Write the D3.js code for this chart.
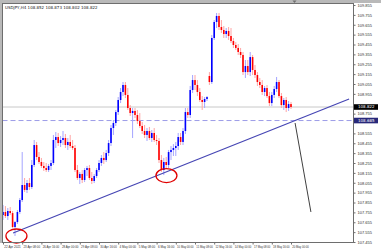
<!DOCTYPE html>
<html>
<head>
<meta charset="utf-8">
<script src="https://cdn.jsdelivr.net/npm/d3@7/dist/d3.min.js"></script>
<style>
    html, body { margin: 0; padding: 0; background: #ffffff; }
    svg { display: block; font-family: "DejaVu Sans", sans-serif; }
</style>
</head>
<body>
<div id="chart"></div>
<script>
//chart title
var symbolTitle = 'USDJPY,H4  108.852 108.873 108.802 108.822';

//candle values (H4 bars)
var opens = [107.728, 107.759, 107.718, 107.769, 107.748, 107.607, 107.657, 107.759, 107.880, 108.032,
    107.982, 108.052, 108.012, 108.235, 108.437, 108.316, 108.265, 108.225, 108.204, 108.184,
    108.225, 108.255, 108.488, 108.518, 108.457, 108.488, 108.508, 108.437, 108.468, 108.427,
    108.407, 108.184, 108.103, 108.144, 108.083, 108.184, 108.204, 108.103, 108.073, 108.123,
    108.184, 108.255, 108.306, 108.285, 108.356, 108.457, 108.609, 108.660, 108.771, 108.893,
    108.974, 109.045, 108.944, 108.812, 108.761, 108.782, 108.741, 108.680, 108.630, 108.579,
    108.539, 108.579, 108.508, 108.559, 108.488, 108.478, 108.285, 108.184, 108.265, 108.235,
    108.366, 108.387, 108.407, 108.427, 108.518, 108.468, 108.579, 108.771, 108.741, 108.994,
    109.095, 109.045, 108.974, 108.893, 108.873, 108.903, 109.136, 109.075, 109.521, 109.683,
    109.744, 109.632, 109.602, 109.561, 109.592, 109.541, 109.490, 109.450, 109.420, 109.379,
    109.349, 109.176, 109.237, 109.176, 109.328, 109.197, 109.146, 109.075, 109.045, 108.974,
    109.014, 108.933, 108.862, 108.944, 109.004, 109.075, 108.933, 108.842, 108.893, 108.812,
    108.852];
var highs = [107.830, 107.819, 107.799, 107.809, 107.769, 107.668, 107.779, 107.900, 108.366, 108.103,
    108.083, 108.103, 108.285, 108.488, 108.468, 108.366, 108.306, 108.265, 108.255, 108.245,
    108.285, 108.539, 108.569, 108.559, 108.528, 108.579, 108.549, 108.508, 108.539, 108.488,
    108.437, 108.235, 108.164, 108.184, 108.204, 108.225, 108.235, 108.164, 108.144, 108.204,
    108.285, 108.336, 108.366, 108.387, 108.488, 108.640, 108.690, 108.792, 108.923, 109.014,
    109.075, 109.075, 109.014, 108.842, 108.812, 108.812, 108.792, 108.761, 108.670, 108.640,
    108.609, 108.620, 108.589, 108.609, 108.539, 108.508, 108.336, 108.306, 108.316, 108.387,
    108.427, 108.447, 108.468, 108.559, 108.559, 108.609, 108.812, 108.812, 109.035, 109.146,
    109.146, 109.095, 109.014, 108.933, 108.923, 108.933, 109.176, 109.551, 109.703, 109.774,
    109.774, 109.703, 109.642, 109.622, 109.632, 109.622, 109.521, 109.480, 109.460, 109.420,
    109.379, 109.298, 109.298, 109.379, 109.349, 109.247, 109.176, 109.116, 109.095, 109.035,
    109.045, 108.974, 108.974, 109.035, 109.126, 109.095, 108.964, 108.913, 108.923, 108.883,
    108.873];
var lows = [107.678, 107.698, 107.678, 107.728, 107.597, 107.516, 107.637, 107.738, 107.860, 107.961,
    107.951, 107.982, 107.992, 108.214, 108.285, 108.245, 108.204, 108.174, 108.164, 108.164,
    108.184, 108.235, 108.407, 108.427, 108.417, 108.437, 108.407, 108.387, 108.407, 108.387,
    108.164, 108.083, 108.042, 108.052, 108.062, 108.123, 108.083, 108.042, 108.052, 108.103,
    108.164, 108.225, 108.245, 108.265, 108.326, 108.427, 108.539, 108.630, 108.741, 108.862,
    108.933, 108.913, 108.792, 108.731, 108.508, 108.711, 108.650, 108.609, 108.549, 108.508,
    108.478, 108.488, 108.468, 108.468, 108.437, 108.255, 108.164, 108.133, 108.204, 108.204,
    108.285, 108.326, 108.326, 108.387, 108.437, 108.437, 108.549, 108.711, 108.711, 108.964,
    108.994, 108.933, 108.873, 108.792, 108.812, 108.883, 109.045, 109.055, 109.501, 109.622,
    109.602, 109.571, 109.521, 109.521, 109.501, 109.470, 109.420, 109.399, 109.349, 109.318,
    109.146, 109.116, 109.146, 109.136, 109.146, 109.116, 109.035, 109.014, 108.944, 108.933,
    108.913, 108.832, 108.832, 108.913, 108.974, 108.913, 108.812, 108.792, 108.771, 108.782,
    108.802];
var closes = [107.759, 107.718, 107.769, 107.748, 107.607, 107.657, 107.759, 107.880, 108.032, 107.982,
    108.052, 108.012, 108.235, 108.437, 108.316, 108.265, 108.225, 108.204, 108.184, 108.225,
    108.255, 108.488, 108.518, 108.457, 108.488, 108.508, 108.437, 108.468, 108.427, 108.407,
    108.184, 108.103, 108.144, 108.083, 108.184, 108.204, 108.103, 108.073, 108.123, 108.184,
    108.255, 108.306, 108.285, 108.356, 108.457, 108.609, 108.660, 108.771, 108.893, 108.974,
    109.045, 108.944, 108.812, 108.761, 108.782, 108.741, 108.680, 108.630, 108.579, 108.539,
    108.579, 108.508, 108.559, 108.488, 108.478, 108.285, 108.184, 108.265, 108.235, 108.366,
    108.387, 108.407, 108.427, 108.518, 108.468, 108.579, 108.771, 108.741, 108.994, 109.095,
    109.045, 108.974, 108.893, 108.873, 108.903, 108.923, 109.075, 109.521, 109.683, 109.744,
    109.632, 109.602, 109.561, 109.592, 109.541, 109.490, 109.450, 109.420, 109.379, 109.349,
    109.176, 109.237, 109.176, 109.328, 109.197, 109.146, 109.075, 109.045, 108.974, 109.014,
    108.933, 108.862, 108.944, 109.004, 109.075, 108.933, 108.842, 108.893, 108.812, 108.852,
    108.822];

//price axis labels
var priceTicks = [109.855, 109.755, 109.655, 109.555, 109.455, 109.355, 109.255, 109.155, 109.055,
    108.955, 108.855, 108.755, 108.655, 108.555, 108.455, 108.355, 108.255, 108.155, 108.055,
    107.955, 107.855, 107.755, 107.655, 107.555, 107.455];

//time axis labels (every 8 bars)
var timeTicks = [0, 8, 16, 24, 32, 40, 48, 56, 64, 72, 80, 88, 96, 104, 112, 120];
var timeLabels = ['22 Apr 2021', '23 Apr 08:00', '26 Apr 16:00', '28 Apr 00:00', '29 Apr 08:00',
    '30 Apr 16:00', '4 May 00:00', '5 May 08:00', '6 May 16:00', '10 May 00:00', '11 May 08:00',
    '12 May 16:00', '14 May 00:00', '17 May 08:00', '18 May 16:00', '20 May 00:00'];

//drawn objects: bid level, horizontal level, trend line, arrow, circles
var bidPrice = 108.822;
var levelPrice = 108.685;
var trendBars = [4.2, 144.2];
var trendPrices = [107.546, 108.903];
var arrowBars = [121.7, 128.3];
var arrowPrices = [108.660, 107.759];
var circleBars = [5.6, 68.1];
var circlePrices = [107.516, 108.128];

//chart size
var width = 381, height = 250,
    plot = { left: 2.5, top: 3.5, right: 353.5, bottom: 242.5 };

var svg = d3.select('#chart').append('svg')
    .attr('width', width)
    .attr('height', height);

//window frame
svg.append('rect').attr('x', 0).attr('y', 0).attr('width', width).attr('height', 3).attr('fill', '#b9b9b9');
svg.append('rect').attr('x', 0).attr('y', 0).attr('width', 2).attr('height', 243).attr('fill', '#b9b9b9');

//chart shift marker
svg.append('path')
    .attr('d', 'M292.5,0.5 L296.5,0.5 L294.5,3 Z')
    .attr('fill', '#707070');

//scales
var x = d3.scaleLinear().domain([0, 145]).range([3, 351]);
var y = d3.scaleLinear().domain([107.455, 109.855]).range([242, 5]);

//build bar rows
var bars = opens.map(function (o, i) {
    return { i: i, o: o, h: highs[i], l: lows[i], c: closes[i] };
});

var plotG = svg.append('g');

//bid line
plotG.append('line')
    .attr('x1', plot.left).attr('x2', plot.right)
    .attr('y1', y(bidPrice)).attr('y2', y(bidPrice))
    .attr('stroke', '#c8c8c8').attr('stroke-width', 1);

//horizontal dashed level
plotG.append('line')
    .attr('x1', plot.left).attr('x2', plot.right)
    .attr('y1', y(levelPrice)).attr('y2', y(levelPrice))
    .attr('stroke', '#9c9ce8').attr('stroke-width', 1)
    .attr('stroke-dasharray', '5,3');

//candle wicks
plotG.selectAll('.wick')
    .data(bars)
    .enter().append('line')
    .attr('class', 'wick')
    .attr('x1', function (d) { return x(d.i); })
    .attr('x2', function (d) { return x(d.i); })
    .attr('y1', function (d) { return y(d.h); })
    .attr('y2', function (d) { return y(d.l); })
    .attr('stroke', function (d) { return d.c >= d.o ? '#a4a4ff' : '#ffa4a4'; })
    .attr('stroke-width', 1);

//candle bodies
plotG.selectAll('.body')
    .data(bars)
    .enter().append('rect')
    .attr('class', 'body')
    .attr('x', function (d) { return x(d.i) - 0.8; })
    .attr('width', 1.6)
    .attr('y', function (d) { return y(Math.max(d.o, d.c)); })
    .attr('height', function (d) { return Math.max(0.8, Math.abs(y(d.o) - y(d.c))); })
    .attr('fill', function (d) { return d.c >= d.o ? '#0000ff' : '#ff0000'; });

//trend line
plotG.append('line')
    .attr('x1', x(trendBars[0])).attr('y1', y(trendPrices[0]))
    .attr('x2', x(trendBars[1])).attr('y2', y(trendPrices[1]))
    .attr('stroke', '#4646b4').attr('stroke-width', 1.2);

//arrow line
plotG.append('line')
    .attr('x1', x(arrowBars[0])).attr('y1', y(arrowPrices[0]))
    .attr('x2', x(arrowBars[1])).attr('y2', y(arrowPrices[1]))
    .attr('stroke', '#404040').attr('stroke-width', 1);

//circles around the lows
plotG.selectAll('.mark')
    .data(circleBars)
    .enter().append('ellipse')
    .attr('class', 'mark')
    .attr('cx', function (d) { return x(d); })
    .attr('cy', function (d, i) { return y(circlePrices[i]); })
    .attr('rx', 10.5)
    .attr('ry', 7)
    .attr('fill', 'none')
    .attr('stroke', '#e00000')
    .attr('stroke-width', 1.3);

//plot border
svg.append('rect')
    .attr('x', plot.left).attr('y', plot.top)
    .attr('width', plot.right - plot.left).attr('height', plot.bottom - plot.top)
    .attr('fill', 'none').attr('stroke', '#6e6e6e').attr('stroke-width', 1);

//title
svg.append('text')
    .attr('x', 5).attr('y', 8.5)
    .attr('font-size', 4)
    .attr('fill', '#202020')
    .text(symbolTitle);

//price highlight boxes
var boxes = [
    { p: bidPrice, fill: '#000000' },
    { p: levelPrice, fill: '#28287a' }
];

//price axis, skipping labels hidden under the boxes
var yAxis = d3.axisRight(y)
    .tickValues(priceTicks.filter(function (t) {
        return boxes.every(function (b) { return Math.abs(y(t) - y(b.p)) > 5; });
    }))
    .tickFormat(d3.format('.3f'))
    .tickSize(2)
    .tickPadding(2);

var yAxisG = svg.append('g')
    .attr('transform', 'translate(' + plot.right + ',0)')
    .call(yAxis);
yAxisG.select('.domain').remove();
yAxisG.selectAll('line').attr('stroke', '#6e6e6e');
yAxisG.selectAll('text').attr('font-size', 4).attr('fill', '#303030');

//time axis
var xAxis = d3.axisBottom(x)
    .tickValues(timeTicks)
    .tickFormat(function (d, i) { return timeLabels[i]; })
    .tickSize(2)
    .tickPadding(1);

var xAxisG = svg.append('g')
    .attr('transform', 'translate(0,' + plot.bottom + ')')
    .call(xAxis);
xAxisG.select('.domain').remove();
xAxisG.selectAll('line').attr('stroke', '#6e6e6e');
xAxisG.selectAll('text')
    .attr('font-size', 3.2)
    .attr('fill', '#303030')
    .attr('text-anchor', 'start')
    .attr('dx', 0.8)
    .attr('textLength', 16.5)
    .attr('lengthAdjust', 'spacingAndGlyphs');

var boxG = svg.selectAll('.pbox')
    .data(boxes)
    .enter().append('g')
    .attr('class', 'pbox')
    .attr('transform', function (d) { return 'translate(' + (plot.right + 0.5) + ',' + y(d.p) + ')'; });
boxG.append('rect')
    .attr('x', 0).attr('y', -2.8)
    .attr('width', 24).attr('height', 5.6)
    .attr('fill', function (d) { return d.fill; });
boxG.append('text')
    .attr('x', 4).attr('dy', '0.32em')
    .attr('font-size', 4)
    .attr('fill', '#ffffff')
    .text(function (d) { return d3.format('.3f')(d.p); });
</script>
</body>
</html>
